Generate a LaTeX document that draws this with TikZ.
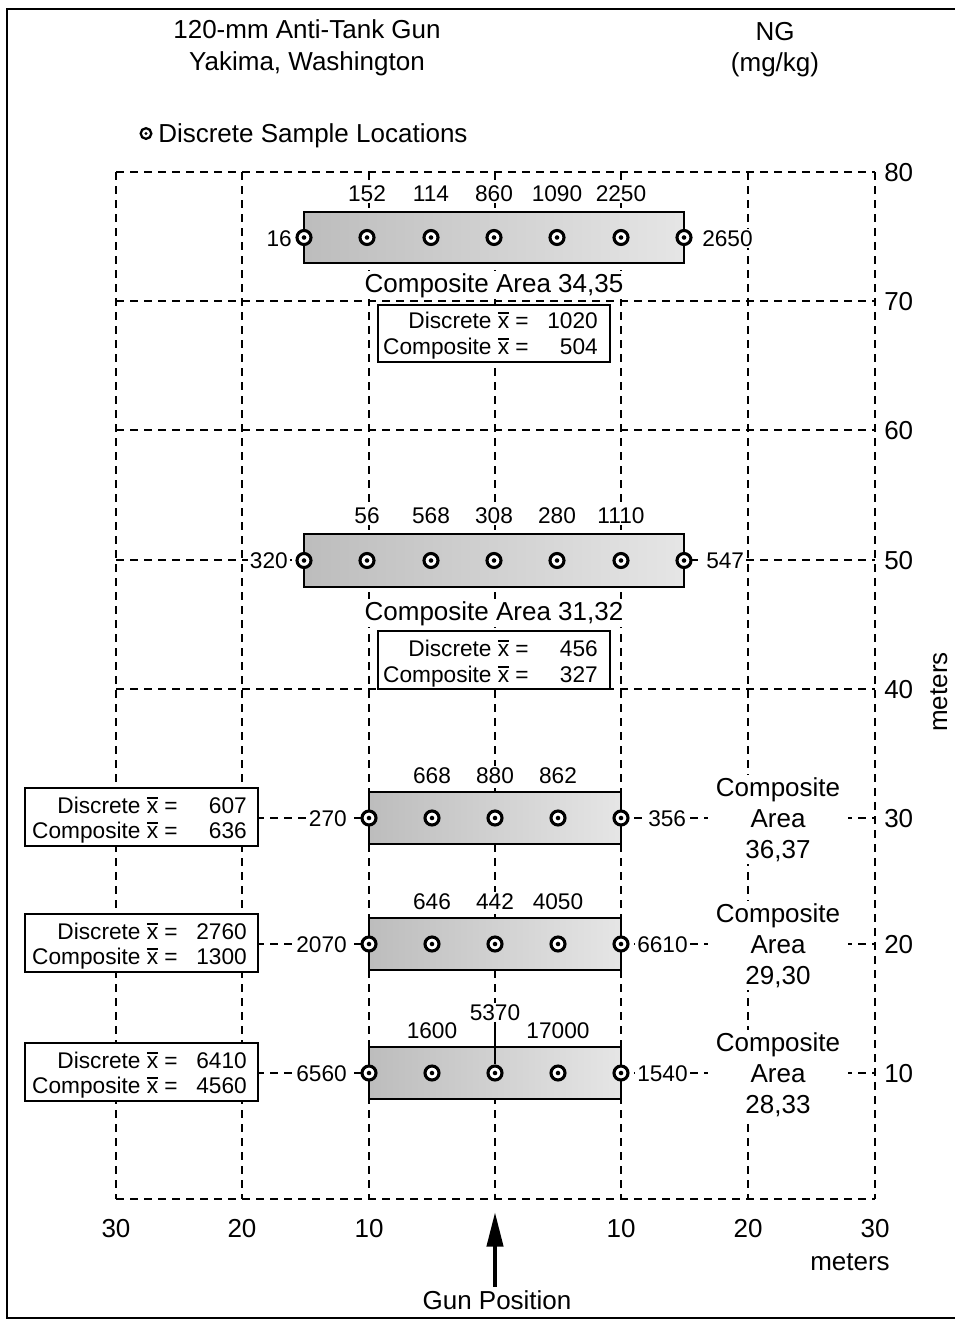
\documentclass[tikz,border=0pt]{standalone}
\usepackage{fontspec}
\setmainfont{Liberation Sans}
\usetikzlibrary{arrows.meta}
\newcommand{\xbar}{\leavevmode\hbox{\vbox{\hrule height 0.07em width 0.5em\kern 0.1em\hbox{x}}}}
\begin{document}
\begin{tikzpicture}[x=0.75pt,y=-0.75pt,
  big/.style={font=\fontsize{19.5}{23.25}\selectfont},
  small/.style={font=\fontsize{17}{20}\selectfont},
  gridl/.style={line width=0.9pt, dash pattern=on 6pt off 4.5pt},
  num/.style={small, fill=white, inner xsep=1.5pt, inner ysep=1pt},
  boxtxt/.style={small, inner sep=0pt},
  strip/.style={line width=2.2pt, left color=black!26, right color=black!10},
  sample/.style={circle, draw, fill=white, line width=2.3pt, minimum size=10.5pt, inner sep=0pt,
    path picture={\fill[black] (path picture bounding box.center) circle (1.7pt);}},
  samplesmall/.style={circle, draw, fill=white, line width=1.7pt, minimum size=8pt, inner sep=0pt,
    path picture={\fill[black] (path picture bounding box.center) circle (1.2pt);}},
  statbox/.style={draw, line width=1.1pt, fill=white},
  axlab/.style={big, inner sep=0pt},
  area/.style={big, align=center, fill=white, inner xsep=6pt, inner ysep=2pt},
]
\useasboundingbox (0,0) rectangle (954,1321);
% frame
\draw[line width=2pt] (960,9) -- (7,9) -- (7,1318) -- (960,1318);

% titles
\node[big, anchor=base, inner sep=0] (t1) at (307,38) {120-mm Anti-Tank Gun};
\node[big, anchor=base, inner sep=0] (t2) at (307,70) {Yakima, Washington};
\node[big, anchor=base, inner sep=0] (ng1) at (775,40) {NG};
\node[big, anchor=base, inner sep=0] (ng2) at (775,71) {(mg/kg)};
\node[samplesmall] (leg) at (146,133.5) {};
\node[big, anchor=base west, inner sep=0] (legt) at (158,142) {Discrete Sample Locations};

% grid
\foreach \x in {116,242,369,495,621,748,875}
  \draw[gridl] (\x,172) -- (\x,1199);
\foreach \y in {172,301,430,560,689,818,944,1073,1199}
  \draw[gridl] (116,\y) -- (875,\y);

% right axis labels
\foreach \y/\v in {172/80,301/70,430/60,560/50,689/40,818/30,944/20,1073/10}
  \node[axlab, anchor=base west] (ry\v) at (884,\y+9.3) {\v};
\node[big, rotate=90, anchor=base, inner sep=0] (mv) at (947,692) {meters};

% bottom axis labels
\foreach \x/\v/\n in {116/30/a,242/20/b,369/10/c,621/10/d,748/20/e,875/30/f}
  \node[axlab, anchor=base] (bx\n) at (\x,1237) {\v};
\node[big, anchor=base, inner sep=0] (mh) at (850,1270) {meters};
\node[big, anchor=base, inner sep=0] (gun) at (497,1309) {Gun Position};
\coordinate (tip) at (495,1212);
\draw[line width=3.2pt, -{Triangle[length=26pt,width=12pt]}] (gun.north -| tip) ++(0,-3) -- (tip);

% ---------- Composite Area 34,35 ----------
\draw[strip] (304,212) rectangle (684,263);
\foreach \i/\x in {1/304,2/367,3/431,4/494,5/557,6/621,7/684}
  \node[sample] (a\i) at (\x,237.5) {};
\foreach \x/\v/\n in {367/152/2,431/114/3,494/860/4,557/1090/5,621/2250/6}
  \node[num, anchor=base] (na\n) at (\x,201) {\v};
\node[num, anchor=base east] (na1) at (294,246) {16};
\node[num, anchor=base west] (na7) at (700,246) {2650};
\node[big, anchor=base, fill=white, inner sep=1.5pt] (ca1) at (494,292) {Composite Area 34,35};
\draw[statbox] (378,305) rectangle (610,362);
\node[boxtxt, anchor=base east] (ba1) at (529,328) {Discrete \xbar\ =};
\node[boxtxt, anchor=base east] (ba2) at (598,328) {1020};
\node[boxtxt, anchor=base east] (ba3) at (529,354) {Composite \xbar\ =};
\node[boxtxt, anchor=base east] (ba4) at (598,354) {504};

% ---------- Composite Area 31,32 ----------
\draw[strip] (304,534) rectangle (684,587);
\foreach \i/\x in {1/304,2/367,3/431,4/494,5/557,6/621,7/684}
  \node[sample] (b\i) at (\x,560.5) {};
\foreach \x/\v/\n in {367/56/2,431/568/3,494/308/4,557/280/5,621/1110/6}
  \node[num, anchor=base] (nb\n) at (\x,523) {\v};
\node[num, anchor=base east] (nb1) at (290,568) {320};
\node[num, anchor=base west] (nb7) at (704,568) {547};
\node[big, anchor=base, fill=white, inner sep=1.5pt] (ca2) at (494,620) {Composite Area 31,32};
\draw[statbox] (378,631) rectangle (610,689);
\node[boxtxt, anchor=base east] (bb1) at (529,656) {Discrete \xbar\ =};
\node[boxtxt, anchor=base east] (bb2) at (598,656) {456};
\node[boxtxt, anchor=base east] (bb3) at (529,682) {Composite \xbar\ =};
\node[boxtxt, anchor=base east] (bb4) at (598,682) {327};

% ---------- Composite Area 36,37 ----------
\draw[strip] (369,792) rectangle (621,844);
\foreach \i/\x in {1/369,2/432,3/495,4/558,5/621}
  \node[sample] (c\i) at (\x,818) {};
\foreach \x/\v/\n in {432/668/2,495/880/3,558/862/4}
  \node[num, anchor=base] (nc\n) at (\x,783) {\v};
\node[num, anchor=base east] (nc1) at (349,826) {270};
\node[num, anchor=base west] (nc5) at (646,826) {356};
\node[area, anchor=base] (cc) at (778,858) {Composite\\Area\\36,37};
\draw[statbox] (25,788) rectangle (258,846);
\node[boxtxt, anchor=base east] (bc1) at (178,813) {Discrete \xbar\ =};
\node[boxtxt, anchor=base east] (bc2) at (247,813) {607};
\node[boxtxt, anchor=base east] (bc3) at (178,838) {Composite \xbar\ =};
\node[boxtxt, anchor=base east] (bc4) at (247,838) {636};

% ---------- Composite Area 29,30 ----------
\draw[strip] (369,918) rectangle (621,970);
\foreach \i/\x in {1/369,2/432,3/495,4/558,5/621}
  \node[sample] (d\i) at (\x,944) {};
\foreach \x/\v/\n in {432/646/2,495/442/3,558/4050/4}
  \node[num, anchor=base] (nd\n) at (\x,909) {\v};
\node[num, anchor=base east] (nd1) at (349,952) {2070};
\node[num, anchor=base west] (nd5) at (635,952) {6610};
\node[area, anchor=base] (cd) at (778,984) {Composite\\Area\\29,30};
\draw[statbox] (25,914) rectangle (258,972);
\node[boxtxt, anchor=base east] (bd1) at (178,939) {Discrete \xbar\ =};
\node[boxtxt, anchor=base east] (bd2) at (247,939) {2760};
\node[boxtxt, anchor=base east] (bd3) at (178,964) {Composite \xbar\ =};
\node[boxtxt, anchor=base east] (bd4) at (247,964) {1300};

% ---------- Composite Area 28,33 ----------
\draw[strip] (369,1047) rectangle (621,1099);
\foreach \i/\x in {1/369,2/432,3/495,4/558,5/621}
  \node[sample] (e\i) at (\x,1073) {};
\node[num, anchor=base] (ne2) at (432,1038) {1600};
\node[num, anchor=base] (ne3) at (495,1020) {5370};
\node[num, anchor=base] (ne4) at (558,1038) {17000};
\draw[line width=1.1pt] (ne3.south) -- (e3.north);
\node[num, anchor=base east] (ne1) at (349,1081) {6560};
\node[num, anchor=base west] (ne5) at (635,1081) {1540};
\node[area, anchor=base] (ce) at (778,1113) {Composite\\Area\\28,33};
\draw[statbox] (25,1043) rectangle (258,1101);
\node[boxtxt, anchor=base east] (be1) at (178,1068) {Discrete \xbar\ =};
\node[boxtxt, anchor=base east] (be2) at (247,1068) {6410};
\node[boxtxt, anchor=base east] (be3) at (178,1093) {Composite \xbar\ =};
\node[boxtxt, anchor=base east] (be4) at (247,1093) {4560};
\end{tikzpicture}
\end{document}
